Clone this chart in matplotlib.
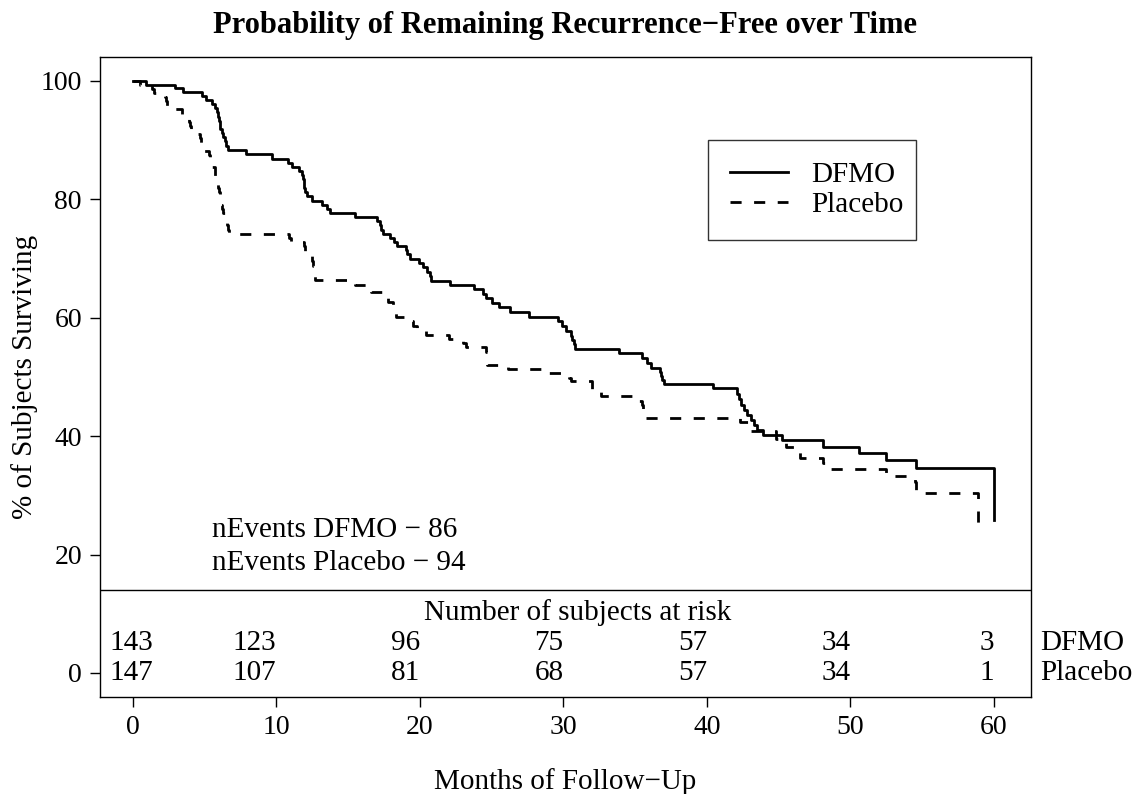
import numpy as np
import matplotlib
matplotlib.use("Agg")
import matplotlib.pyplot as plt

# Kaplan-Meier estimates (months, % recurrence-free)
dfmo_months = [0, 0.9, 2.9, 3.5, 4.8, 5.1, 5.5, 5.7, 5.85, 5.95, 6.0, 6.05, 6.1, 6.2, 6.3, 6.4, 6.5, 6.6,
               7.9, 9.7, 10.8, 11.1, 11.6, 11.8, 11.85, 11.9, 11.95, 12.0, 12.1, 12.5, 13.2, 13.5, 13.7,
               15.5, 17.0, 17.2, 17.3, 17.4, 17.9, 18.2, 18.4, 19.0, 19.1, 19.3, 19.9, 20.2, 20.5, 20.7,
               20.8, 22.1, 23.8, 24.4, 24.6, 25.0, 25.5, 26.3, 27.6, 29.6, 29.9, 30.2, 30.5, 30.6, 30.7,
               30.8, 33.9, 35.5, 35.8, 36.1, 36.7, 36.8, 36.9, 37.0, 40.4, 42.1, 42.2, 42.4, 42.6, 42.8,
               43.1, 43.3, 43.5, 43.9, 45.2, 48.1, 50.6, 52.5, 54.6, 60.0]
dfmo_surv = [100, 99.4, 98.8, 98.1, 97.5, 96.8, 96.1, 95.4, 94.7, 94.0, 93.3, 92.6, 91.9, 91.2, 90.5, 89.8,
             89.0, 88.3, 87.7, 86.9, 86.2, 85.5, 84.8, 84.1, 83.4, 82.7, 81.9, 81.2, 80.5, 79.8, 79.1,
             78.4, 77.7, 77.0, 76.3, 75.6, 74.9, 74.2, 73.5, 72.8, 72.1, 71.4, 70.7, 70.0, 69.3, 68.5,
             67.7, 67.0, 66.2, 65.5, 64.8, 64.0, 63.3, 62.5, 61.8, 61.0, 60.2, 59.4, 58.6, 57.8, 57.0,
             56.2, 55.5, 54.8, 54.0, 53.2, 52.3, 51.5, 50.8, 50.1, 49.5, 48.8, 48.1, 47.1, 46.2, 45.3,
             44.5, 43.6, 42.8, 41.9, 41.1, 40.2, 39.4, 38.2, 37.1, 36.0, 34.6, 25.9]

placebo_months = [0, 0.5, 1.3, 1.5, 2.2, 2.3, 2.35, 2.4, 3.4, 3.8, 3.9, 4.0, 4.05, 4.1, 4.7, 4.75, 4.8, 4.9,
                  5.3, 5.4, 5.45, 5.5, 5.7, 5.75, 5.8, 5.85, 5.9, 6.0, 6.05, 6.1, 6.15, 6.2, 6.3, 6.4, 6.5,
                  6.55, 6.6, 6.7, 10.9, 11.0, 11.9, 12.0, 12.45, 12.5, 12.55, 12.6, 12.65, 12.7, 15.5, 16.6,
                  17.7, 17.8, 18.1, 18.2, 18.3, 19.3, 19.5, 19.8, 20.4, 22.0, 23.0, 23.2, 24.6, 24.65, 24.7,
                  26.1, 28.8, 30.4, 30.5, 32.0, 32.6, 35.0, 35.5, 35.55, 35.6, 35.65, 42.3, 42.9, 43.0,
                  44.8, 45.5, 46.4, 46.5, 48.1, 48.2, 52.5, 54.5, 54.55, 54.6, 58.9, 59.4]
placebo_surv = [100, 99.3, 98.6, 97.9, 97.3, 96.6, 95.9, 95.2, 94.5, 93.8, 93.1, 92.4, 91.7, 91.0, 90.3,
                89.6, 88.9, 88.2, 87.5, 86.8, 86.1, 85.4, 84.7, 84.0, 83.3, 82.6, 81.9, 81.2, 80.5, 79.8,
                79.1, 78.4, 77.7, 77.0, 76.3, 75.6, 74.9, 74.2, 73.5, 72.8, 72.1, 71.1, 70.4, 69.6, 68.8,
                68.0, 67.2, 66.4, 65.6, 64.4, 63.5, 62.6, 61.8, 61.0, 60.2, 59.4, 58.6, 57.9, 57.1, 56.4,
                55.7, 55.0, 54.2, 53.0, 52.0, 51.3, 50.6, 49.9, 49.3, 48.0, 46.8, 46.0, 45.3, 44.6, 43.8,
                43.1, 42.4, 41.6, 40.8, 39.5, 38.2, 37.3, 36.4, 35.4, 34.4, 33.3, 32.3, 31.3, 30.4, 25.4,
                25.4]

# Number at risk table
risk_months = [0, 10, 20, 30, 40, 50, 60]
risk_dfmo = [143, 123, 96, 75, 57, 34, 3]
risk_placebo = [147, 107, 81, 68, 57, 34, 1]
n_events = {"DFMO": 86, "Placebo": 94}

plt.rcParams["font.family"] = ["Liberation Serif", "DejaVu Serif"]
FS = 21

fig = plt.figure(figsize=(11.41, 7.94), dpi=100)
ax = fig.add_axes([0.0876, 0.1222, 0.8160, 0.8060])

ax.step(dfmo_months, dfmo_surv, where="post", color="black", lw=2.0, label="DFMO")
ax.step(placebo_months, placebo_surv, where="post", color="black", lw=2.0,
        linestyle=(0, (4, 4.5)), label="Placebo")

ax.set_xlim(-2.3, 62.58)
ax.set_ylim(-4.05, 104.05)
ax.set_xticks(np.arange(0, 61, 10))
ax.set_yticks([0, 20, 40, 60, 80, 100])
ax.tick_params(direction="out", length=7, width=1, labelsize=20, pad=6)
for sp in ax.spines.values():
    sp.set_linewidth(1.0)

# separator between curves and at-risk table
ax.axhline(14.0, color="black", lw=1.0)

ax.text(31.0, 10.3, "Number of subjects at risk", ha="center", va="center", fontsize=FS)
for t, a, b in zip(risk_months, risk_dfmo, risk_placebo):
    x = max(t, 1.4)
    ax.text(x, 5.1, str(a), ha="right", va="center", fontsize=FS)
    ax.text(x, 0.0, str(b), ha="right", va="center", fontsize=FS)
ax.text(63.2, 5.1, "DFMO", ha="left", va="center", fontsize=FS, clip_on=False)
ax.text(63.2, 0.0, "Placebo", ha="left", va="center", fontsize=FS, clip_on=False)

ax.text(5.5, 24.2, "nEvents DFMO \u2212 %d" % n_events["DFMO"], ha="left", va="center", fontsize=FS)
ax.text(5.5, 18.6, "nEvents Placebo \u2212 %d" % n_events["Placebo"], ha="left", va="center", fontsize=FS)

leg = ax.legend(loc="upper left", bbox_to_anchor=(0.653, 0.870, 0.2234, 0.0), mode="expand",
                fontsize=FS, frameon=True, fancybox=False, edgecolor="black", borderpad=0.75,
                labelspacing=0.1, handlelength=2.0, handletextpad=0.8, borderaxespad=0)
leg.get_frame().set_linewidth(1.0)

ax.set_title("Probability of Remaining Recurrence\u2212Free over Time", fontsize=22,
             fontweight="bold", pad=17)
ax.set_xlabel("Months of Follow\u2212Up", fontsize=FS, labelpad=20)
ax.set_ylabel("% of Subjects Surviving", fontsize=FS, labelpad=2)

fig.savefig("out.png", dpi=100, facecolor="white")
